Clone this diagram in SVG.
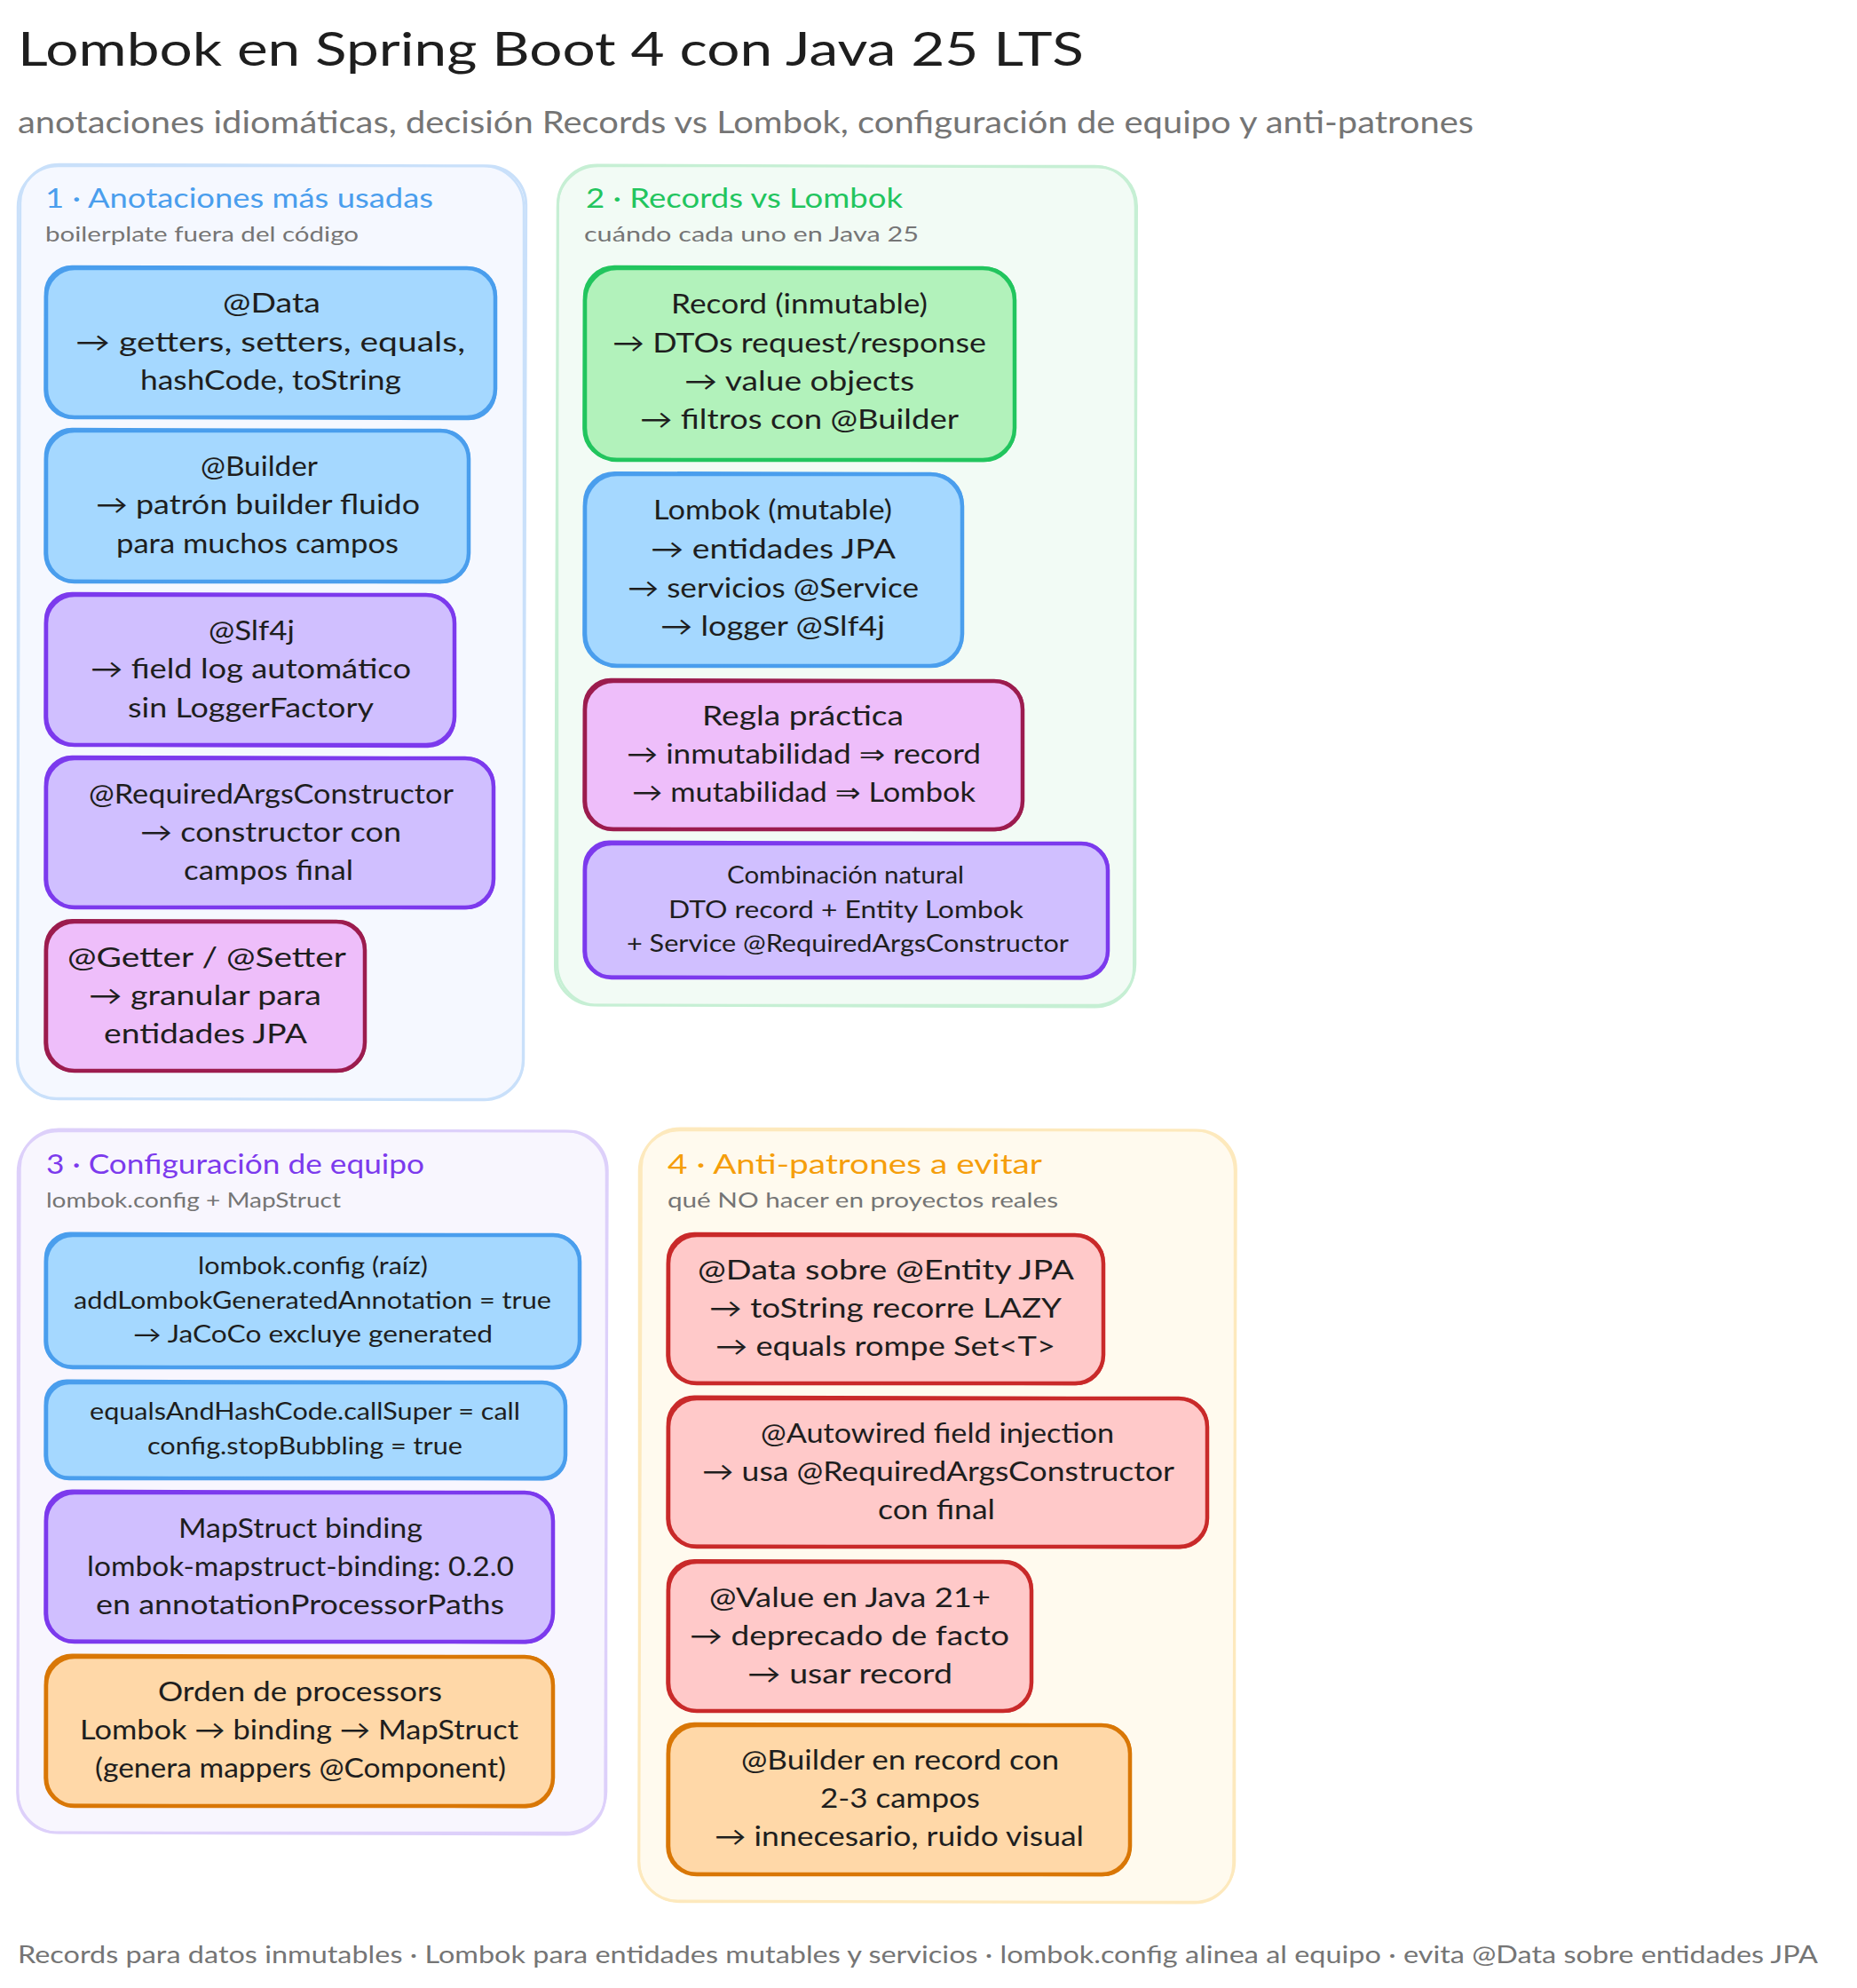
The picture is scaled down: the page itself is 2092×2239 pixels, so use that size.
<svg xmlns="http://www.w3.org/2000/svg" width="2092" height="2239" viewBox="0 0 2092 2239">
<style>
text{font-family:"Lato","Noto Sans","DejaVu Sans",sans-serif;fill:#1e1e1e;font-size:30px;transform:translateY(1px)}
.title{font-size:52px}
.sub{font-size:34px;fill:#757575}
.st{font-size:31px}
.ss{font-size:24px;fill:#757575}
.foot{font-size:27px;fill:#757575}
.sm{font-size:26px}
.f{stroke-width:4.5;stroke-linejoin:round}
.e{fill:none;stroke-width:3;transform-box:fill-box;transform-origin:center;transform:rotate(.2deg)}
.pb{fill:#f5f8ff}.pbs{stroke:#c9e0fa}
.pg{fill:#f2fbf5}.pgs{stroke:#c6efd4}
.pp{fill:#f8f6fe}.pps{stroke:#ddd0fa}
.py{fill:#fffaee}.pys{stroke:#fde9bd}
.blue{fill:#a5d8ff;stroke:#4a9eed}.blues{stroke:#4a9eed}
.purple{fill:#d0bfff;stroke:#7c3aed}.purples{stroke:#7c3aed}
.pink{fill:#eebefa;stroke:#9c1c4e}.pinks{stroke:#9c1c4e}
.green{fill:#b2f2bb;stroke:#22c55e}.greens{stroke:#22c55e}
.red{fill:#ffc9c9;stroke:#c92a2a}.reds{stroke:#c92a2a}
.orange{fill:#ffd8a8;stroke:#d97706}.oranges{stroke:#d97706}
</style>
<g id="header">
<text class="title" x="20" y="73" textLength="1201" lengthAdjust="spacingAndGlyphs">Lombok en Spring Boot 4 con Java 25 LTS</text>
<text class="sub" x="20" y="149" textLength="1640" lengthAdjust="spacingAndGlyphs">anotaciones idiomáticas, decisión Records vs Lombok, configuración de equipo y anti-patrones</text>
</g>
<g id="panel-1">
<rect class="pb pbs" x="20" y="187" width="570" height="1051" rx="46" stroke-width="2.5"/>
<rect class="e pbs" x="21" y="186" width="570" height="1052" rx="44"/>
<text class="st" x="51" y="233" style="fill:#4a9eed" textLength="437" lengthAdjust="spacingAndGlyphs">1 · Anotaciones más usadas</text>
<text class="ss" x="51" y="271" textLength="353" lengthAdjust="spacingAndGlyphs">boilerplate fuera del código</text>
</g>
<g id="panel-2">
<rect class="pg pgs" x="628" y="187" width="651" height="945" rx="46" stroke-width="2.5"/>
<rect class="e pgs" x="627" y="187" width="652" height="946" rx="44"/>
<text class="st" x="660" y="233" style="fill:#22c55e" textLength="357" lengthAdjust="spacingAndGlyphs">2 · Records vs Lombok</text>
<text class="ss" x="658" y="271" textLength="377" lengthAdjust="spacingAndGlyphs">cuándo cada uno en Java 25</text>
</g>
<g id="panel-3">
<rect class="pp pps" x="20" y="1274" width="663" height="790" rx="46" stroke-width="2.5"/>
<rect class="e pps" x="21" y="1273" width="662" height="792" rx="44"/>
<text class="st" x="52" y="1321" style="fill:#7c3aed" textLength="426" lengthAdjust="spacingAndGlyphs">3 · Configuración de equipo</text>
<text class="ss" x="52" y="1359" textLength="332" lengthAdjust="spacingAndGlyphs">lombok.config + MapStruct</text>
</g>
<g id="panel-4">
<rect class="py pys" x="720" y="1273" width="671" height="869" rx="46" stroke-width="2.5"/>
<rect class="e pys" x="721" y="1272" width="670" height="870" rx="44"/>
<text class="st" x="752" y="1321" style="fill:#f59e0b" textLength="422" lengthAdjust="spacingAndGlyphs">4 · Anti-patrones a evitar</text>
<text class="ss" x="752" y="1359" textLength="440" lengthAdjust="spacingAndGlyphs">qué NO hacer en proyectos reales</text>
</g>
<g id="node-data">
<rect class="f blue" x="52" y="302" width="506" height="168" rx="32"/><rect class="e blues" x="51" y="301" width="507" height="170" rx="30"/>
<text x="251" y="351" textLength="110" lengthAdjust="spacingAndGlyphs">@Data</text>
<text x="85" y="395" textLength="439" lengthAdjust="spacingAndGlyphs">→ getters, setters, equals,</text>
<text x="158" y="438" textLength="294" lengthAdjust="spacingAndGlyphs">hashCode, toString</text>
</g>
<g id="node-builder">
<rect class="f blue" x="52" y="485" width="476" height="170" rx="32"/><rect class="e blues" x="51" y="484" width="477" height="171" rx="30"/>
<text x="226" y="535" textLength="132" lengthAdjust="spacingAndGlyphs">@Builder</text>
<text x="108" y="578" textLength="365" lengthAdjust="spacingAndGlyphs">→ patrón builder fluido</text>
<text x="131" y="622" textLength="318" lengthAdjust="spacingAndGlyphs">para muchos campos</text>
</g>
<g id="node-slf4j">
<rect class="f purple" x="52" y="670" width="460" height="169" rx="32"/><rect class="e purples" x="51" y="669" width="461" height="171" rx="30"/>
<text x="235" y="720" textLength="97" lengthAdjust="spacingAndGlyphs">@Slf4j</text>
<text x="102" y="763" textLength="361" lengthAdjust="spacingAndGlyphs">→ field log automático</text>
<text x="144" y="807" textLength="277" lengthAdjust="spacingAndGlyphs">sin LoggerFactory</text>
</g>
<g id="node-reqargs">
<rect class="f purple" x="52" y="854" width="504" height="168" rx="32"/><rect class="e purples" x="51" y="853" width="505" height="169" rx="30"/>
<text x="100" y="904" textLength="411" lengthAdjust="spacingAndGlyphs">@RequiredArgsConstructor</text>
<text x="158" y="947" textLength="294" lengthAdjust="spacingAndGlyphs">→ constructor con</text>
<text x="207" y="990" textLength="191" lengthAdjust="spacingAndGlyphs">campos final</text>
</g>
<g id="node-getter">
<rect class="f pink" x="52" y="1038" width="359" height="168" rx="32"/><rect class="e pinks" x="51" y="1037" width="360" height="169" rx="30"/>
<text x="76" y="1088" textLength="314" lengthAdjust="spacingAndGlyphs">@Getter / @Setter</text>
<text x="100" y="1131" textLength="262" lengthAdjust="spacingAndGlyphs">→ granular para</text>
<text x="117" y="1174" textLength="229" lengthAdjust="spacingAndGlyphs">entidades JPA</text>
</g>
<g id="node-record">
<rect class="f green" x="659" y="302" width="484" height="216" rx="36"/><rect class="e greens" x="658" y="301" width="485" height="217" rx="34"/>
<text x="756" y="352" textLength="289" lengthAdjust="spacingAndGlyphs">Record (inmutable)</text>
<text x="690" y="396" textLength="421" lengthAdjust="spacingAndGlyphs">→ DTOs request/response</text>
<text x="771" y="439" textLength="259" lengthAdjust="spacingAndGlyphs">→ value objects</text>
<text x="721" y="482" textLength="359" lengthAdjust="spacingAndGlyphs">→ filtros con @Builder</text>
</g>
<g id="node-lombok">
<rect class="f blue" x="659" y="534" width="425" height="216" rx="36"/><rect class="e blues" x="658" y="533" width="426" height="217" rx="34"/>
<text x="736" y="584" textLength="269" lengthAdjust="spacingAndGlyphs">Lombok (mutable)</text>
<text x="733" y="628" textLength="276" lengthAdjust="spacingAndGlyphs">→ entidades JPA</text>
<text x="707" y="672" textLength="328" lengthAdjust="spacingAndGlyphs">→ servicios @Service</text>
<text x="744" y="715" textLength="253" lengthAdjust="spacingAndGlyphs">→ logger @Slf4j</text>
</g>
<g id="node-regla">
<rect class="f pink" x="659" y="767" width="493" height="167" rx="32"/><rect class="e pinks" x="658" y="766" width="494" height="168" rx="30"/>
<text x="791" y="816" textLength="227" lengthAdjust="spacingAndGlyphs">Regla práctica</text>
<text x="706" y="859" textLength="399" lengthAdjust="spacingAndGlyphs">→ inmutabilidad ⇒ record</text>
<text x="712" y="902" textLength="387" lengthAdjust="spacingAndGlyphs">→ mutabilidad ⇒ Lombok</text>
</g>
<g id="node-comb">
<rect class="f purple" x="659" y="950" width="589" height="151" rx="30"/><rect class="e purples" x="658" y="949" width="590" height="152" rx="28"/>
<text class="sm" x="819" y="994" textLength="267" lengthAdjust="spacingAndGlyphs">Combinación natural</text>
<text class="sm" x="753" y="1033" textLength="400" lengthAdjust="spacingAndGlyphs">DTO record + Entity Lombok</text>
<text class="sm" x="706" y="1071" textLength="498" lengthAdjust="spacingAndGlyphs">+ Service @RequiredArgsConstructor</text>
</g>
<g id="node-config">
<rect class="f blue" x="52" y="1391" width="601" height="149" rx="30"/><rect class="e blues" x="51" y="1390" width="602" height="150" rx="28"/>
<text class="sm" x="223" y="1434" textLength="259" lengthAdjust="spacingAndGlyphs">lombok.config (raíz)</text>
<text class="sm" x="83" y="1473" textLength="538" lengthAdjust="spacingAndGlyphs">addLombokGeneratedAnnotation = true</text>
<text class="sm" x="150" y="1511" textLength="405" lengthAdjust="spacingAndGlyphs">→ JaCoCo excluye generated</text>
</g>
<g id="node-equals">
<rect class="f blue" x="52" y="1557" width="585" height="108" rx="26"/><rect class="e blues" x="51" y="1556" width="586" height="109" rx="24"/>
<text class="sm" x="101" y="1598" textLength="485" lengthAdjust="spacingAndGlyphs">equalsAndHashCode.callSuper = call</text>
<text class="sm" x="166" y="1637" textLength="355" lengthAdjust="spacingAndGlyphs">config.stopBubbling = true</text>
</g>
<g id="node-mapstruct">
<rect class="f purple" x="52" y="1681" width="571" height="168" rx="32"/><rect class="e purples" x="51" y="1680" width="572" height="169" rx="30"/>
<text x="201" y="1731" textLength="275" lengthAdjust="spacingAndGlyphs">MapStruct binding</text>
<text x="98" y="1774" textLength="481" lengthAdjust="spacingAndGlyphs">lombok-mapstruct-binding: 0.2.0</text>
<text x="108" y="1817" textLength="460" lengthAdjust="spacingAndGlyphs">en annotationProcessorPaths</text>
</g>
<g id="node-orden">
<rect class="f orange" x="52" y="1866" width="571" height="168" rx="32"/><rect class="e oranges" x="51" y="1865" width="572" height="169" rx="30"/>
<text x="178" y="1915" textLength="320" lengthAdjust="spacingAndGlyphs">Orden de processors</text>
<text x="90" y="1958" textLength="494" lengthAdjust="spacingAndGlyphs">Lombok → binding → MapStruct</text>
<text x="107" y="2001" textLength="463" lengthAdjust="spacingAndGlyphs">(genera mappers @Component)</text>
</g>
<g id="node-data-entity">
<rect class="f red" x="753" y="1391" width="490" height="167" rx="32"/><rect class="e reds" x="752" y="1390" width="491" height="168" rx="30"/>
<text x="786" y="1440" textLength="424" lengthAdjust="spacingAndGlyphs">@Data sobre @Entity JPA</text>
<text x="799" y="1483" textLength="397" lengthAdjust="spacingAndGlyphs">→ toString recorre LAZY</text>
<text x="806" y="1526" textLength="383" lengthAdjust="spacingAndGlyphs">→ equals rompe Set&lt;T&gt;</text>
</g>
<g id="node-autowired">
<rect class="f red" x="753" y="1575" width="607" height="167" rx="32"/><rect class="e reds" x="752" y="1574" width="608" height="168" rx="30"/>
<text x="857" y="1624" textLength="398" lengthAdjust="spacingAndGlyphs">@Autowired field injection</text>
<text x="791" y="1667" textLength="532" lengthAdjust="spacingAndGlyphs">→ usa @RequiredArgsConstructor</text>
<text x="989" y="1710" textLength="132" lengthAdjust="spacingAndGlyphs">con final</text>
</g>
<g id="node-value">
<rect class="f red" x="753" y="1759" width="409" height="168" rx="32"/><rect class="e reds" x="752" y="1758" width="410" height="169" rx="30"/>
<text x="799" y="1809" textLength="317" lengthAdjust="spacingAndGlyphs">@Value en Java 21+</text>
<text x="777" y="1852" textLength="360" lengthAdjust="spacingAndGlyphs">→ deprecado de facto</text>
<text x="842" y="1895" textLength="231" lengthAdjust="spacingAndGlyphs">→ usar record</text>
</g>
<g id="node-builder-record">
<rect class="f orange" x="753" y="1943" width="520" height="168" rx="32"/><rect class="e oranges" x="752" y="1942" width="521" height="169" rx="30"/>
<text x="835" y="1992" textLength="358" lengthAdjust="spacingAndGlyphs">@Builder en record con</text>
<text x="924" y="2035" textLength="180" lengthAdjust="spacingAndGlyphs">2-3 campos</text>
<text x="805" y="2078" textLength="416" lengthAdjust="spacingAndGlyphs">→ innecesario, ruido visual</text>
</g>
<g id="connectors"></g>
<g id="footer">
<text class="foot" x="20" y="2210" textLength="2028" lengthAdjust="spacingAndGlyphs">Records para datos inmutables · Lombok para entidades mutables y servicios · lombok.config alinea al equipo · evita @Data sobre entidades JPA</text>
</g>
</svg>
